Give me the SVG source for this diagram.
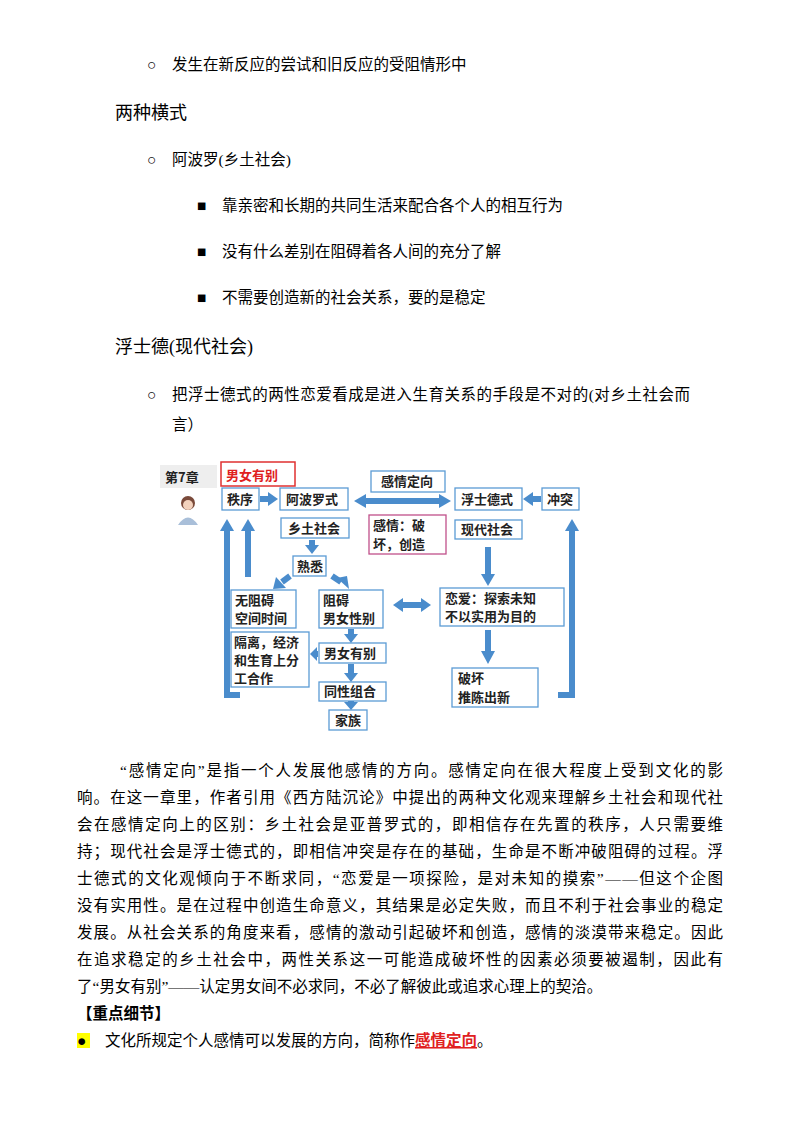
<svg xmlns="http://www.w3.org/2000/svg" width="800" height="1134" viewBox="0 0 800 1134">
<style>
.t{font-family:"Liberation Serif","Noto Sans CJK SC",serif;font-size:15.5px;fill:#000}
.h{font-size:18px}
.b{fill:#fff;stroke:#5b9bd5;stroke-width:1.3}
.d{font-family:"Noto Sans CJK SC",sans-serif;font-size:13px;font-weight:bold;fill:#222}
.a{fill:none;stroke:#4a8ccc;stroke-width:6}
.ah{fill:#4a8ccc}
</style>
<rect width="800" height="1134" fill="#fff"/>
<g id="text-top" class="t">
<text x="147" y="70">○</text><text x="172" y="70">发生在新反应的尝试和旧反应的受阻情形中</text>
<text class="t h" x="115" y="119">两种横式</text>
<text x="147" y="165">○</text><text x="172" y="165">阿波罗(乡土社会)</text>
<text x="197" y="211">■</text><text x="222" y="211">靠亲密和长期的共同生活来配合各个人的相互行为</text>
<text x="197" y="257">■</text><text x="222" y="257">没有什么差别在阻碍着各人间的充分了解</text>
<text x="197" y="303">■</text><text x="222" y="303">不需要创造新的社会关系，要的是稳定</text>
<text class="t h" x="115" y="353">浮士德(现代社会)</text>
<text x="147" y="400">○</text><text x="172" y="400" textLength="518">把浮士德式的两性恋爱看成是进入生育关系的手段是不对的(对乡土社会而</text>
<text x="172" y="430">言）</text>
</g>
<g id="diagram">
<rect x="160" y="465" width="57" height="23" fill="#eee"/>
<text class="d" x="165" y="482" font-size="15">第7章</text>
<g id="person"><circle cx="188" cy="503" r="7" fill="#7a4a3a"/><circle cx="188" cy="505" r="5" fill="#f3d2bd"/><path d="M178 525 Q188 510 198 525 Z" fill="#a9bfd9"/></g>
<g id="n-title"><rect x="221" y="462" width="74" height="24" fill="#fff" stroke="#e03030" stroke-width="1.5"/><text class="d" x="226" y="480" font-size="15" style="fill:#e02020">男女有别</text></g>
<g id="n-zhixu"><rect class="b" x="222" y="488" width="37" height="22"/><text class="d" x="227" y="504">秩序</text></g>
<g id="n-apollo"><rect class="b" x="280" y="488" width="68" height="22"/><text class="d" x="286" y="504">阿波罗式</text></g>
<g id="n-dingxiang"><rect class="b" x="371" y="471" width="74" height="21"/><text class="d" x="381" y="486">感情定向</text></g>
<g id="n-faust"><rect class="b" x="455" y="488" width="67" height="22"/><text class="d" x="461" y="504">浮士德式</text></g>
<g id="n-chongtu"><rect class="b" x="542" y="488" width="37" height="22"/><text class="d" x="547" y="504">冲突</text></g>
<g id="n-xiangtu"><rect class="b" x="281" y="518" width="68" height="20"/><text class="d" x="288" y="533">乡土社会</text></g>
<g id="n-ganqing"><rect x="369" y="515" width="77" height="39" fill="#fff" stroke="#c0508a" stroke-width="1.3"/><text class="d" x="373" y="530">感情：破</text><text class="d" x="373" y="549">坏，创造</text></g>
<g id="n-xiandai"><rect class="b" x="455" y="520" width="67" height="19"/><text class="d" x="461" y="534">现代社会</text></g>
<g id="n-shuxi"><rect class="b" x="293" y="556" width="33" height="20"/><text class="d" x="297" y="571">熟悉</text></g>
<g id="n-wuzuai"><rect class="b" x="231" y="590" width="65" height="38"/><text class="d" x="235" y="605">无阻碍</text><text class="d" x="235" y="623">空间时间</text></g>
<g id="n-zuai"><rect class="b" x="319" y="590" width="64" height="38"/><text class="d" x="323" y="605">阻碍</text><text class="d" x="323" y="623">男女性别</text></g>
<g id="n-lianai"><rect class="b" x="440" y="588" width="124" height="38"/><text class="d" x="445" y="603">恋爱：探索未知</text><text class="d" x="445" y="621">不以实用为目的</text></g>
<g id="n-geli"><rect class="b" x="231" y="632" width="78" height="55"/><text class="d" x="234" y="647">隔离，经济</text><text class="d" x="234" y="665">和生育上分</text><text class="d" x="234" y="683">工合作</text></g>
<g id="n-nannv"><rect class="b" x="319" y="643" width="67" height="20"/><text class="d" x="324" y="658">男女有别</text></g>
<g id="n-tongxing"><rect class="b" x="319" y="682" width="67" height="19"/><text class="d" x="324" y="696">同性组合</text></g>
<g id="n-jiazu"><rect class="b" x="329" y="710" width="38" height="20"/><text class="d" x="335" y="725">家族</text></g>
<g id="n-pohuai"><rect class="b" x="452" y="668" width="86" height="39"/><text class="d" x="458" y="683">破坏</text><text class="d" x="458" y="702">推陈出新</text></g>
</g>
<g id="connectors">
<path class="a" d="M240 695 H227 V530"/><polygon class="ah" points="220,531 234,531 227,519"/>
<path class="a" d="M248 577 V530"/><polygon class="ah" points="241,531 255,531 248,519"/>
<path class="a" d="M558 695 H572 V530"/><polygon class="ah" points="565,531 579,531 572,519"/>
<path class="a" d="M260 499 H269"/><polygon class="ah" points="268,492 268,506 278,499"/>
<path class="a" d="M541 499 H532"/><polygon class="ah" points="533,492 533,506 523,499"/>
<path class="a" d="M365 501 H440"/><polygon class="ah" points="366,494 366,508 354,501"/><polygon class="ah" points="439,494 439,508 451,501"/>
<path class="a" d="M312 540 V546"/><polygon class="ah" points="305,545 319,545 312,554"/>
<path class="a" d="M290 576 L282 582"/><polygon class="ah" points="276,577 286,588 273,589"/>
<path class="a" d="M332 576 L341 582"/><polygon class="ah" points="337,578 347,576 349,589 "/>
<path class="a" d="M488 547 V575"/><polygon class="ah" points="481,574 495,574 488,586"/>
<path class="a" d="M488 630 V652"/><polygon class="ah" points="481,651 495,651 488,664"/>
<path class="a" d="M402 605 H422"/><polygon class="ah" points="403,598 403,612 393,605"/><polygon class="ah" points="421,598 421,612 431,605"/>
<path class="a" d="M351 629 V635"/><polygon class="ah" points="344,634 358,634 351,643"/>
<path class="a" d="M318 654 H316"/><polygon class="ah" points="317,647 317,661 310,654"/>
<path class="a" d="M351 664 V674"/><polygon class="ah" points="344,673 358,673 351,682"/>
<path class="a" d="M351 701 V703"/><polygon class="ah" points="344,702 358,702 351,710"/>
</g>
<g id="text-body" class="t">
<text x="120" y="776" textLength="603">“感情定向”是指一个人发展他感情的方向。感情定向在很大程度上受到文化的影</text>
<text x="77" y="803" textLength="646">响。在这一章里，作者引用《西方陆沉论》中提出的两种文化观来理解乡土社会和现代社</text>
<text x="77" y="830" textLength="646">会在感情定向上的区别：乡土社会是亚普罗式的，即相信存在先置的秩序，人只需要维</text>
<text x="77" y="857" textLength="646">持；现代社会是浮士德式的，即相信冲突是存在的基础，生命是不断冲破阻碍的过程。浮</text>
<text x="77" y="884" textLength="646">士德式的文化观倾向于不断求同，“恋爱是一项探险，是对未知的摸索”——但这个企图</text>
<text x="77" y="911" textLength="646">没有实用性。是在过程中创造生命意义，其结果是必定失败，而且不利于社会事业的稳定</text>
<text x="77" y="938" textLength="646">发展。从社会关系的角度来看，感情的激动引起破坏和创造，感情的淡漠带来稳定。因此</text>
<text x="77" y="965" textLength="646">在追求稳定的乡土社会中，两性关系这一可能造成破坏性的因素必须要被遏制，因此有</text>
<text x="77" y="992">了“男女有别”——认定男女间不必求同，不必了解彼此或追求心理上的契洽。</text>
<text x="77" y="1019" font-weight="bold">【重点细节】</text>
<rect x="77" y="1033" width="13" height="15" fill="#ffff00"/>
<text x="77" y="1046">●</text>
<text x="105" y="1046">文化所规定个人感情可以发展的方向，简称作<tspan font-weight="bold" text-decoration="underline" style="fill:#e02020">感情定向</tspan>。</text>
</g>
</svg>
